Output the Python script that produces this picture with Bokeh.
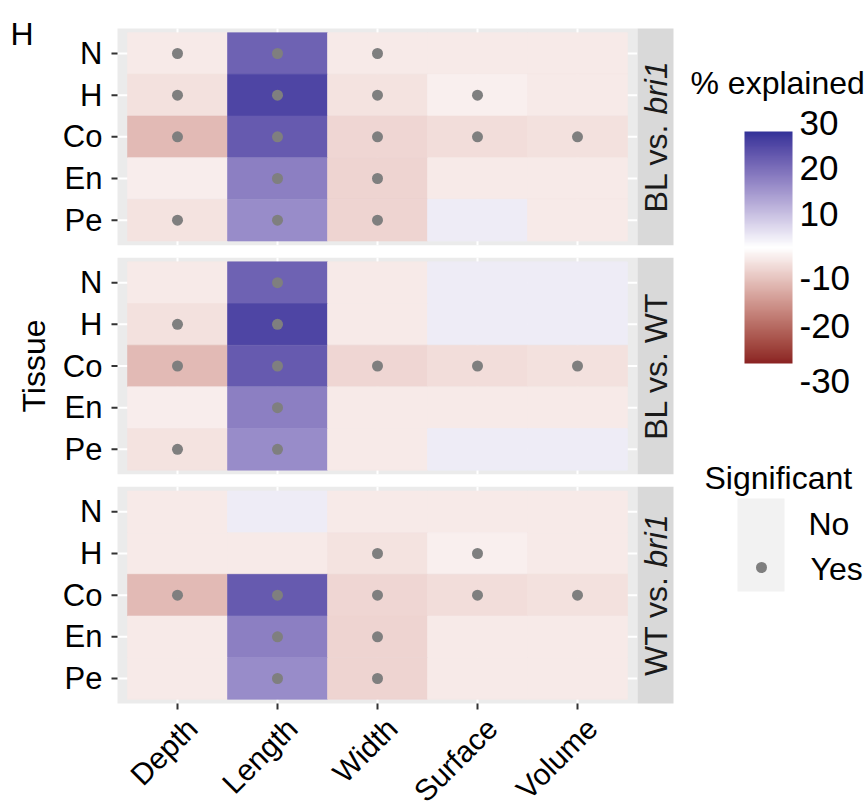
import math
from bokeh.plotting import figure
from bokeh.models import Range1d, FixedTicker, ColumnDataSource, LinearColorMapper, ColorBar
from bokeh.embed import file_html
from bokeh.resources import INLINE
from bokeh.core.properties import value

FONT = "Liberation Sans"

# ---------------- data ----------------
measures = ["Depth", "Length", "Width", "Surface", "Volume"]
tissues = ["N", "H", "Co", "En", "Pe"]
comparisons = ["BL vs. bri1", "BL vs. WT", "WT vs. bri1"]
strip_plain = ["BL vs.", "BL vs. WT", "WT vs."]
strip_italic = ["bri1", "", "bri1"]

# % explained, rows = tissues (N, H, Co, En, Pe), cols = measures
pct_bl_bri1 = [
    [-2.6, 20.1, -2.6, -2.6, -2.6],
    [-3.7, 24.1, -3.5, -2.0, -2.6],
    [-8.3, 21.1, -5.0, -4.2, -3.7],
    [-2.3, 16.2, -5.2, -2.6, -2.6],
    [-3.5, 14.4, -5.2, 2.4, -2.6],
]
pct_bl_wt = [
    [-2.6, 20.1, -2.6, 2.4, 2.4],
    [-3.7, 24.1, -2.6, 2.4, 2.4],
    [-8.3, 21.1, -5.0, -4.2, -3.7],
    [-2.3, 16.2, -2.6, -2.6, -2.6],
    [-3.5, 14.4, -2.6, 2.4, 2.4],
]
pct_wt_bri1 = [
    [-2.6, 2.4, -2.6, -2.6, -2.6],
    [-2.6, -2.6, -3.5, -2.0, -2.6],
    [-8.3, 21.1, -5.0, -4.2, -3.7],
    [-2.6, 16.2, -5.2, -2.6, -2.6],
    [-2.6, 14.4, -5.2, -2.6, -2.6],
]
# significance (1 = Yes)
sig_bl_bri1 = [
    [1, 1, 1, 0, 0],
    [1, 1, 1, 1, 0],
    [1, 1, 1, 1, 1],
    [0, 1, 1, 0, 0],
    [1, 1, 1, 0, 0],
]
sig_bl_wt = [
    [0, 1, 0, 0, 0],
    [1, 1, 0, 0, 0],
    [1, 1, 1, 1, 1],
    [0, 1, 0, 0, 0],
    [1, 1, 0, 0, 0],
]
sig_wt_bri1 = [
    [0, 0, 0, 0, 0],
    [0, 0, 1, 1, 0],
    [1, 1, 1, 1, 1],
    [0, 1, 1, 0, 0],
    [0, 1, 1, 0, 0],
]
legend_breaks = ["30", "20", "10", "-10", "-20", "-30"]
sig_levels = ["No", "Yes"]

pct_all = [pct_bl_bri1, pct_bl_wt, pct_wt_bri1]
sig_all = [sig_bl_bri1, sig_bl_wt, sig_wt_bri1]

# ---------------- colour scale (Lab interpolation like ggplot) ----------------
LOW, MID, HIGH = "#8B2323", "#FFFFFF", "#333399"
LIMIT = 27


def _lin(c):
    c = c / 255.0
    return c / 12.92 if c <= 0.04045 else ((c + 0.055) / 1.055) ** 2.4


def _gam(c):
    c = max(0.0, min(1.0, c))
    v = 12.92 * c if c <= 0.0031308 else 1.055 * c ** (1 / 2.4) - 0.055
    return int(round(v * 255))


WHITE = (0.95047, 1.0, 1.08883)


def _f(t):
    return t ** (1 / 3) if t > 216 / 24389 else (24389 / 27 * t + 16) / 116


def _finv(t):
    return t ** 3 if t ** 3 > 216 / 24389 else (116 * t - 16) / (24389 / 27)


def hex2lab(h):
    r, g, b = (_lin(int(h[i:i + 2], 16)) for i in (1, 3, 5))
    X_ = 0.4124 * r + 0.3576 * g + 0.1805 * b
    Y_ = 0.2126 * r + 0.7152 * g + 0.0722 * b
    Z_ = 0.0193 * r + 0.1192 * g + 0.9505 * b
    fx, fy, fz = _f(X_ / WHITE[0]), _f(Y_ / WHITE[1]), _f(Z_ / WHITE[2])
    return (116 * fy - 16, 500 * (fx - fy), 200 * (fy - fz))


def lab2hex(L, a, b):
    fy = (L + 16) / 116
    fx = fy + a / 500
    fz = fy - b / 200
    X_, Y_, Z_ = _finv(fx) * WHITE[0], _finv(fy) * WHITE[1], _finv(fz) * WHITE[2]
    r = 3.2406 * X_ - 1.5372 * Y_ - 0.4986 * Z_
    g = -0.9689 * X_ + 1.8758 * Y_ + 0.0415 * Z_
    bb = 0.0557 * X_ - 0.2040 * Y_ + 1.0570 * Z_
    return "#%02x%02x%02x" % (_gam(r), _gam(g), _gam(bb))


def ramp(c1, c2, n):
    l1, l2 = hex2lab(c1), hex2lab(c2)
    out = []
    for i in range(n):
        t = i / (n - 1)
        out.append(lab2hex(*[l1[k] + (l2[k] - l1[k]) * t for k in range(3)]))
    return out


palette = ramp(LOW, MID, 128) + ramp(MID, HIGH, 128)
mapper = LinearColorMapper(palette=palette, low=-LIMIT, high=LIMIT)

# ---------------- geometry (layout only) ----------------
W, H = 866, 809
PL, PT, PB = 117, 28, 703          # panel area left / top / bottom, pixels
ROW_H, EXPAND, GAP = 10, 1, 3      # y units
PANEL_H = 2 * EXPAND + ROW_H * len(tissues)   # 52
TOTAL = 3 * PANEL_H + 2 * GAP                 # 162
PX_PER_Y = (PB - PT) / TOTAL
STRIP_R = 5.96


def X(sx):   # pixel -> data x (layout helper)
    return 0.4 + (sx - PL) / 100.0


def Y(sy):   # pixel -> data y (layout helper)
    return TOTAL - (sy - PT) / PX_PER_Y


def panel_top(f):
    return TOTAL - f * (PANEL_H + GAP)


def row_center(f, r):
    return panel_top(f) - EXPAND - ROW_H / 2 - r * ROW_H


tile = dict(left=[], right=[], top=[], bottom=[], val=[])
pts = dict(x=[], y=[])
for f in range(len(comparisons)):
    for r in range(len(tissues)):
        for c in range(len(measures)):
            yc = row_center(f, r)
            tile["left"].append(c + 0.5)
            tile["right"].append(c + 1.5)
            tile["top"].append(yc + ROW_H / 2)
            tile["bottom"].append(yc - ROW_H / 2)
            tile["val"].append(pct_all[f][r][c])
            if sig_all[f][r][c]:
                pts["x"].append(c + 1)
                pts["y"].append(yc)

p = figure(width=W, height=H, x_range=Range1d(X(0), X(W)), y_range=Range1d(Y(H), Y(0)),
           output_backend="svg", toolbar_location=None, min_border=0,
           x_axis_location=None, y_axis_location=None)
p.outline_line_color = None
p.xgrid.visible = False
p.ygrid.visible = False
p.background_fill_color = "white"
p.border_fill_color = "white"

# panels
pl = dict(left=[0.4] * 3, right=[5.6] * 3,
          top=[panel_top(f) for f in range(3)],
          bottom=[panel_top(f) - PANEL_H for f in range(3)])
p.quad(source=ColumnDataSource(pl), left="left", right="right", top="top", bottom="bottom",
       fill_color="#EBEBEB", line_color=None)
# grid lines
gx0, gy0, gx1, gy1 = [], [], [], []
for f in range(3):
    for c in range(len(measures)):
        gx0.append(c + 1); gx1.append(c + 1)
        gy0.append(panel_top(f) - PANEL_H); gy1.append(panel_top(f))
    for r in range(len(tissues)):
        gx0.append(0.4); gx1.append(5.6)
        gy0.append(row_center(f, r)); gy1.append(row_center(f, r))
p.segment(x0=gx0, y0=gy0, x1=gx1, y1=gy1, line_color="white", line_width=2)

# tiles
cmap = {"field": "val", "transform": mapper}
p.quad(source=ColumnDataSource(tile), left="left", right="right", top="top", bottom="bottom",
       fill_color=cmap, line_color=cmap, line_width=0.6)
# significant points
p.scatter(source=ColumnDataSource(pts), x="x", y="y", size=11, fill_color="#7F7F7F", line_color=None)

# strips
p.quad(left=[5.6] * 3, right=[STRIP_R] * 3, top=[panel_top(f) for f in range(3)],
       bottom=[panel_top(f) - PANEL_H for f in range(3)], fill_color="#D9D9D9", line_color=None)
STRIP_FS = 32
sx, sy, st, ix, iy, it, cx, cy, ct = [], [], [], [], [], [], [], [], []
for f in range(3):
    center = panel_top(f) - PANEL_H / 2
    if strip_italic[f]:
        w_plain = {"BL vs.": 2.779, "WT vs.": 3.111}[strip_plain[f]] * STRIP_FS
        w_space = 0.278 * STRIP_FS
        w_ital = 1.667 * STRIP_FS
        total = w_plain + w_space + w_ital
        end_plain = center + (-total / 2 + w_plain) / PX_PER_Y
        sx.append(5.78); sy.append(end_plain); st.append(strip_plain[f])
        ix.append(5.78); iy.append(end_plain + w_space / PX_PER_Y); it.append(strip_italic[f])
    else:
        cx.append(5.78); cy.append(center); ct.append(strip_plain[f])
common = dict(angle=math.pi / 2, text_baseline="middle", text_font=value(FONT),
              text_font_size=f"{STRIP_FS}px", text_color="#1A1A1A")
p.text(x=sx, y=sy, text=st, text_align="right", **common)
p.text(x=ix, y=iy, text=it, text_align="left", text_font_style="italic", **common)
p.text(x=cx, y=cy, text=ct, text_align="center", **common)

# ---------------- axes (ticks + labels) ----------------
txt = dict(text_font=value(FONT), text_color="black")
yticks = [row_center(f, r) for f in range(3) for r in range(len(tissues))]
ylabels = [tissues[r] for f in range(3) for r in range(len(tissues))]
p.segment(x0=[X(111)] * len(yticks), x1=[X(117)] * len(yticks), y0=yticks, y1=yticks,
          line_color="#333333", line_width=2)
p.text(x=[X(102)] * len(yticks), y=yticks, text=ylabels, text_align="right",
       text_baseline="middle", text_font_size="31px", **txt)
xticks = [c + 1 for c in range(len(measures))]
p.segment(x0=xticks, x1=xticks, y0=[Y(703)] * len(xticks), y1=[Y(709)] * len(xticks),
          line_color="#333333", line_width=2)
p.text(x=[t + 0.03 for t in xticks], y=[Y(711)] * len(xticks), text=measures, angle=math.pi / 4,
       text_align="right", text_baseline="top", text_font_size="30px", **txt)
p.text(x=[X(33)], y=[TOTAL / 2], text=["Tissue"], angle=math.pi / 2, text_align="center",
       text_baseline="middle", text_font_size="32px", **txt)
# panel tag
p.text(x=[X(10)], y=[Y(33)], text=["H"], text_baseline="alphabetic", text_font_size="32px", **txt)

# ---------------- legends ----------------
p.text(x=[X(690)], y=[Y(82)], text=["% explained"], text_baseline="alphabetic",
       text_font_size="32px", **txt)
cb = ColorBar(color_mapper=mapper, location=(744, H - 363), width=48, height=232, padding=0,
              ticker=FixedTicker(ticks=[]), major_tick_line_color=None, bar_line_color=None,
              border_line_color=None, background_fill_alpha=0, major_label_text_alpha=0)
p.add_layout(cb)
p.text(x=[X(799)] * len(legend_breaks), y=[Y(v) for v in (122, 167, 213, 277, 325, 380)],
       text=legend_breaks, text_baseline="middle", text_font_size="35px", **txt)
p.text(x=[X(704)], y=[Y(477)], text=["Significant"], text_baseline="alphabetic",
       text_font_size="32px", **txt)
p.quad(left=[X(737)], right=[X(784)], top=[Y(498)], bottom=[Y(591)], fill_color="#F2F2F2", line_color=None)
p.scatter(x=[X(761)], y=[Y(567)], size=11, fill_color="#7F7F7F", line_color=None)
p.text(x=[X(808), X(810)], y=[Y(523), Y(568)], text=sig_levels, text_baseline="middle",
       text_font_size="32px", **txt)

open("out.html", "w").write(file_html(p, INLINE))
